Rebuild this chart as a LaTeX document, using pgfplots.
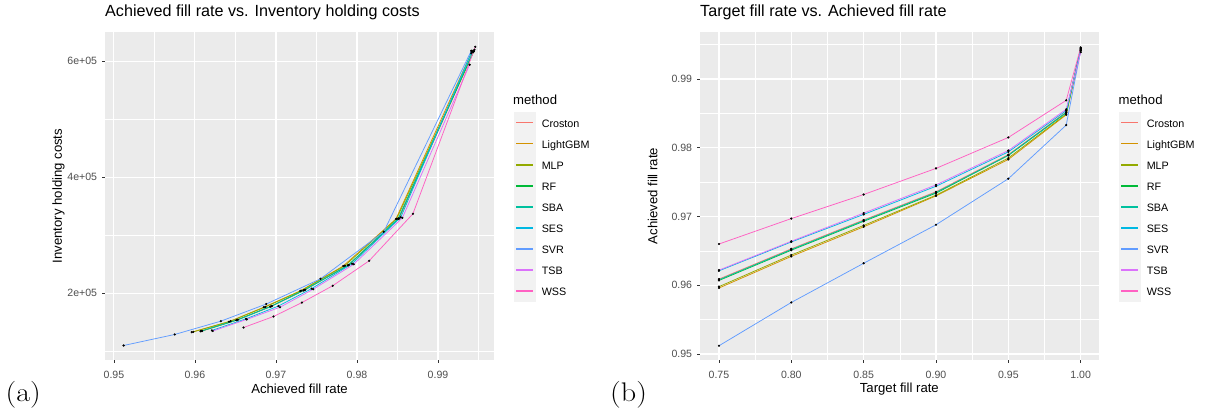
\documentclass[border=0pt]{standalone}
\usepackage{pgfplots}
\usepackage{pgfplotstable}
\pgfplotsset{compat=1.18}
\usepackage{fontspec}
\newfontfamily\ggf{Liberation Sans}

\definecolor{ggbg}{HTML}{EBEBEB}
\definecolor{ggkey}{HTML}{F2F2F2}
\definecolor{ggtxt}{HTML}{4D4D4D}
\definecolor{ggtick}{HTML}{333333}
\definecolor{cCroston}{HTML}{F8766D}
\definecolor{cLightGBM}{HTML}{D39200}
\definecolor{cMLP}{HTML}{93AA00}
\definecolor{cRF}{HTML}{00BA38}
\definecolor{cSBA}{HTML}{00C19F}
\definecolor{cSES}{HTML}{00B9E3}
\definecolor{cSVR}{HTML}{619CFF}
\definecolor{cTSB}{HTML}{DB72FB}
\definecolor{cWSS}{HTML}{FF61C3}

% per method: f = achieved fill rate, c = inventory holding costs, by target fill rate
\pgfplotstableread{
target fCroston cCroston fLightGBM cLightGBM fMLP cMLP fRF cRF fSBA cSBA fSES cSES fSVR cSVR fTSB cTSB fWSS cWSS
0.75 0.9609 135000 0.9596 133000 0.9598 133500 0.9607 134500 0.9608 135000 0.9621 136000 0.9512 110000 0.9622 135000 0.9660 141000
0.80 0.9653 154500 0.9642 151000 0.9644 152000 0.9651 153500 0.9652 154000 0.9663 156000 0.9575 129000 0.9664 155000 0.9697 160000
0.85 0.9695 178000 0.9685 176000 0.9687 176500 0.9693 177000 0.9694 177500 0.9703 178000 0.9632 152000 0.9705 176000 0.9732 184000
0.90 0.9736 206000 0.9730 204000 0.9731 204500 0.9734 205000 0.9735 205500 0.9744 208000 0.9688 181500 0.9746 207000 0.9770 213000
0.95 0.9790 249000 0.9783 247000 0.9785 247500 0.9789 248000 0.9789 248500 0.9794 251000 0.9755 225000 0.9796 250000 0.9815 256000
0.99 0.9852 329000 0.9848 328000 0.9849 328500 0.9851 328000 0.9851 329000 0.9854 331000 0.9833 306000 0.9856 330000 0.9869 337000
1.00 0.9944 617000 0.9941 614000 0.9944 617000 0.9945 620000 0.9943 616000 0.9942 618000 0.9941 618000 0.9939 594000 0.9946 625000
}\res

\pgfplotsset{
  ggaxis/.style={
    scale only axis, anchor=south west, height=328bp,
    axis background/.style={fill=ggbg},
    axis line style={draw=none},
    grid=both,
    major grid style={white, line width=1.1bp},
    minor grid style={white, line width=0.55bp},
    tick align=outside, tick pos=left,
    major tick length=2.75bp, minor tick length=0pt,
    tick style={ggtick, line width=0.6bp},
    ticklabel style={font=\ggf\fontsize{10.6}{12}\selectfont, text=ggtxt},
    xticklabel style={anchor=base, yshift=-16bp},
    yticklabel style={anchor=east, inner sep=0pt, xshift=-5bp},
    label style={font=\ggf\fontsize{13.2}{15}\selectfont, inner sep=0pt},
    xlabel style={at={(axis description cs:0.5,0)}, anchor=base, yshift=-33bp},
    title style={at={(axis description cs:0,1)}, anchor=base west, yshift=10bp,
      inner sep=0pt, font=\ggf\fontsize{16.2}{19}\selectfont},
    legend style={anchor=north west, draw=none, fill=none, inner sep=0pt, outer sep=0pt,
      row sep=0pt, column sep=6bp, font=\ggf\fontsize{10.8}{12}\selectfont,
      nodes={inner sep=0pt, text height=14.9bp, text depth=5.4bp, anchor=base west}},
    legend cell align=left,
    legend image code/.code={
      \fill[ggkey] (0bp,-5.4bp) rectangle (21bp,14.9bp);
      \draw[##1, line width=1.8bp] (2bp,4.75bp) -- (19bp,4.75bp);},
    legend entries={Croston,LightGBM,MLP,RF,SBA,SES,SVR,TSB,WSS},
  },
}

\begin{document}
\begin{tikzpicture}[x=1bp, y=1bp]

% (a) achieved fill rate vs holding costs
\begin{axis}[ggaxis,
  at={(105bp,55bp)}, width=389bp,
  xmin=0.9489, xmax=0.99691, ymin=85000, ymax=650500,
  xtick={0.95,0.96,0.97,0.98,0.99}, xticklabels={0.95,0.96,0.97,0.98,0.99},
  minor xtick={0.955,0.965,0.975,0.985,0.995},
  ytick={200000,400000,600000}, yticklabels={2e+05,4e+05,6e+05},
  minor ytick={100000,300000,500000},
  scaled ticks=false,
  title={Achieved fill rate vs. Inventory holding costs},
  xlabel={Achieved fill rate}, ylabel={Inventory holding costs},
  ylabel style={at={(axis description cs:-0.1031,0.5)}, anchor=south},
  legend style={at={(axis description cs:1.0514,0.7561)}},
]
\pgfplotsinvokeforeach{Croston,LightGBM,MLP,RF,SBA,SES,SVR,TSB,WSS}{
  \addplot[c#1, line width=0.75bp] table[x=f#1, y=c#1] {\res};
}
\pgfplotsinvokeforeach{Croston,LightGBM,MLP,RF,SBA,SES,SVR,TSB,WSS}{
  \addplot[only marks, mark=*, mark size=0.9bp, black, forget plot] table[x=f#1, y=c#1] {\res};
}
\end{axis}

% (b) target fill rate vs achieved fill rate
\begin{axis}[ggaxis,
  at={(700bp,55bp)}, width=398.7bp,
  xmin=0.7369, xmax=1.01245, ymin=0.94913, ymax=0.99684,
  xtick={0.75,0.80,0.85,0.90,0.95,1.00}, xticklabels={0.75,0.80,0.85,0.90,0.95,1.00},
  minor xtick={0.775,0.825,0.875,0.925,0.975},
  ytick={0.95,0.96,0.97,0.98,0.99}, yticklabels={0.95,0.96,0.97,0.98,0.99},
  minor ytick={0.955,0.965,0.975,0.985,0.995},
  title={Target fill rate vs. Achieved fill rate},
  xlabel={Target fill rate}, ylabel={Achieved fill rate},
  ylabel style={at={(axis description cs:-0.1058,0.5)}, anchor=south},
  legend style={at={(axis description cs:1.0509,0.7561)}},
]
\pgfplotsinvokeforeach{Croston,LightGBM,MLP,RF,SBA,SES,SVR,TSB,WSS}{
  \addplot[c#1, line width=0.75bp] table[x=target, y=f#1] {\res};
}
\pgfplotsinvokeforeach{Croston,LightGBM,MLP,RF,SBA,SES,SVR,TSB,WSS}{
  \addplot[only marks, mark=*, mark size=0.9bp, black, forget plot] table[x=target, y=f#1] {\res};
}
\end{axis}

% legend titles and panel labels
\node[anchor=base west, inner sep=0pt, font=\ggf\fontsize{13.2}{15}\selectfont] at (513bp,310bp) {method};
\node[anchor=base west, inner sep=0pt, font=\ggf\fontsize{13.2}{15}\selectfont] at (1118.5bp,310bp) {method};
\node[anchor=base west, inner sep=0pt, xscale=1.12, font=\fontsize{27}{30}\selectfont] at (5.5bp,14bp) {(a)};
\node[anchor=base west, inner sep=0pt, xscale=1.12, font=\fontsize{27}{30}\selectfont] at (610bp,14bp) {(b)};

\pgfresetboundingbox
\path[use as bounding box] (0,0) rectangle (1205bp,415bp);
\end{tikzpicture}
\end{document}
